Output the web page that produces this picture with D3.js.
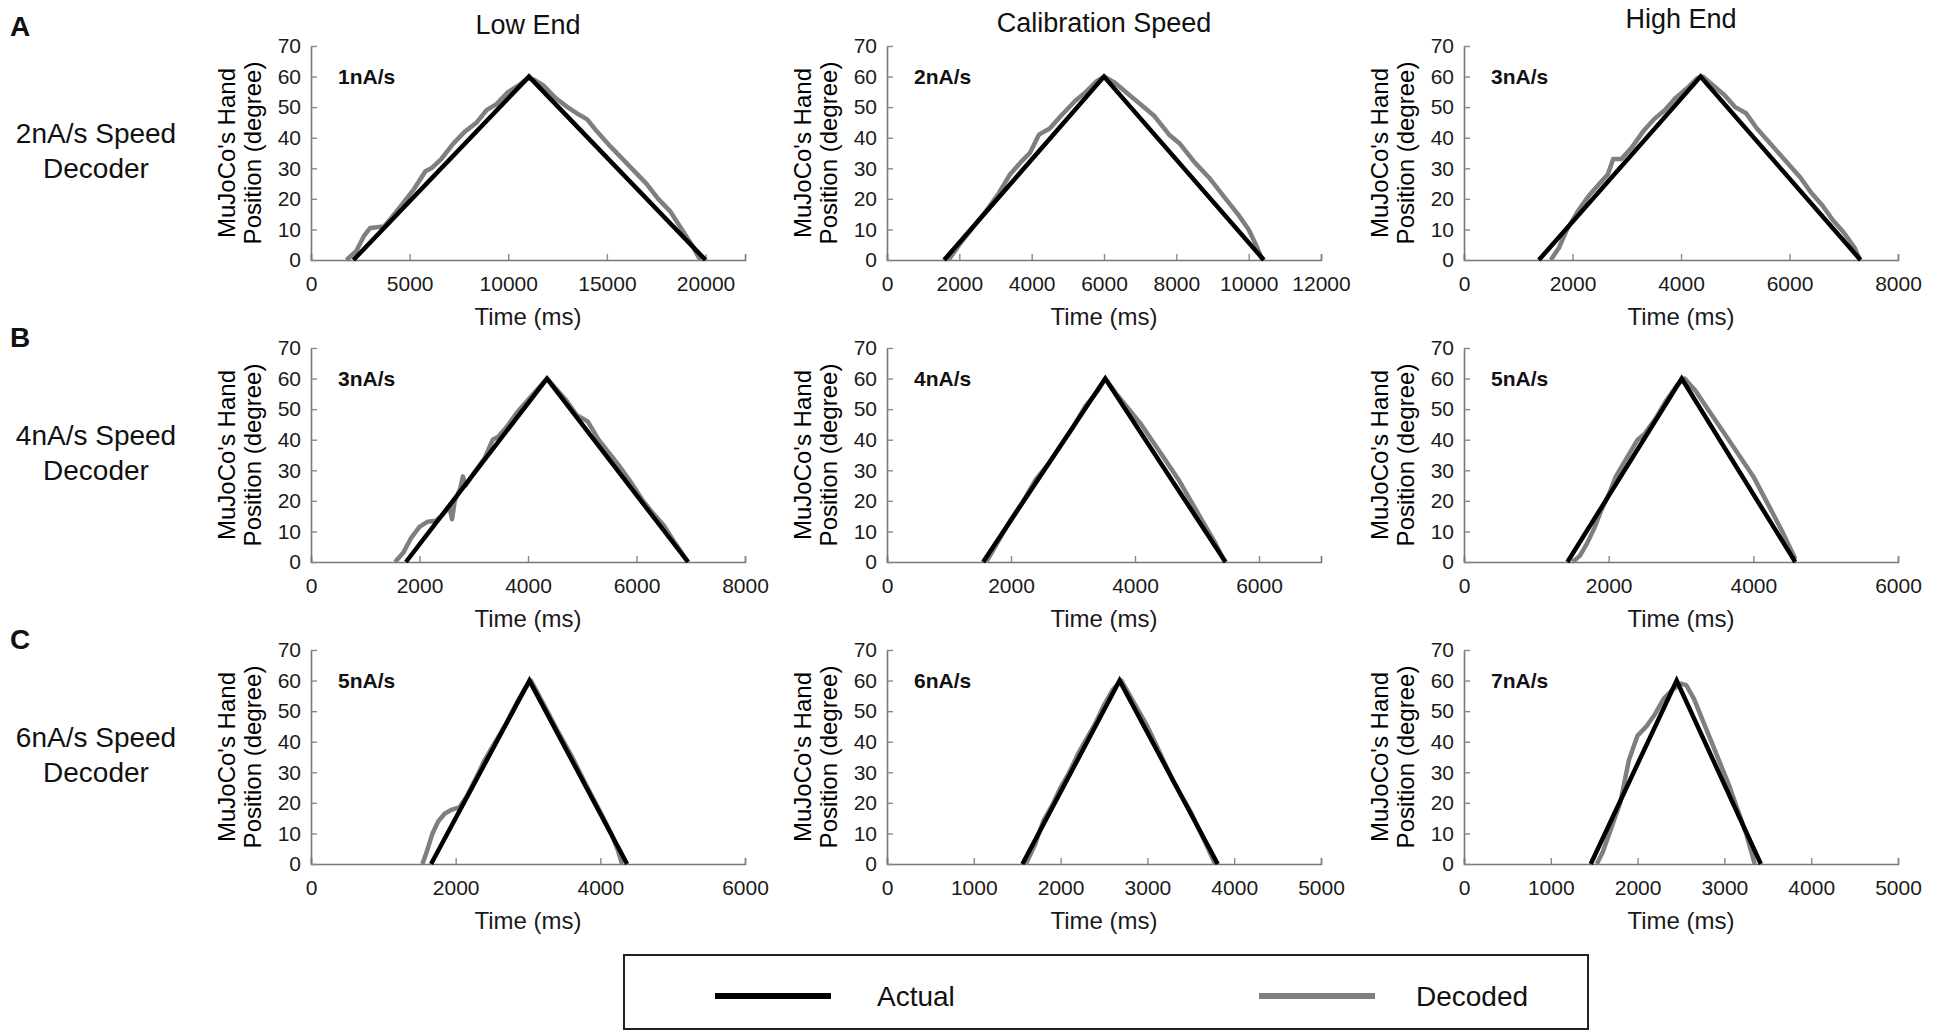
<!DOCTYPE html>
<html>
<head>
<meta charset="utf-8">
<script src="https://cdn.jsdelivr.net/npm/d3@7"></script>
<style>
  body { margin: 0; background: #fff; }
  svg { font-family: "Liberation Sans", Arial, sans-serif; }
</style>
</head>
<body>
<svg id="chart"></svg>
<script>
// Labels
const colTitles = ["Low End", "Calibration Speed", "High End"];
const rowLetters = ["A", "B", "C"];
const rowDecoders = ["2nA/s Speed", "4nA/s Speed", "6nA/s Speed"];
const speedLabels = [
    ["1nA/s", "2nA/s", "3nA/s"],
    ["3nA/s", "4nA/s", "5nA/s"],
    ["5nA/s", "6nA/s", "7nA/s"]
];

// Time axis range (ms) and tick step per panel
const timeMax = [[22000, 12000, 8000], [8000, 7000, 6000], [6000, 5000, 5000]];
const timeStep = [[5000, 2000, 2000], [2000, 2000, 2000], [2000, 1000, 1000]];
const degTicks = [0, 10, 20, 30, 40, 50, 60, 70];

// Actual hand position [time, degree], row by row
const actual = [
    [[2150, 0], [11050, 60], [20000, 0]],
    [[1580, 0], [6000, 60], [10420, 0]],
    [[1380, 0], [4360, 60], [7310, 0]],
    [[1750, 0], [4350, 60], [6950, 0]],
    [[1550, 0], [3520, 60], [5460, 0]],
    [[1430, 0], [3010, 60], [4580, 0]],
    [[1660, 0], [3020, 60], [4370, 0]],
    [[1560, 0], [2680, 60], [3810, 0]],
    [[1460, 0], [2450, 60], [3420, 0]]
];

// Decoded hand position [time, degree]
const decoded = [
    [[1800, 0], [2300, 3], [2700, 8], [3000, 10.5], [3700, 11], [4100, 14], [4600, 18], [5200, 23], [5800, 29],
     [6100, 30], [6600, 33], [7200, 38], [7800, 42], [8400, 45], [8900, 49], [9400, 51], [10000, 55], [10500, 57],
     [11000, 59.5], [11300, 59], [11800, 57], [12400, 53], [13000, 50], [13600, 47.5], [14000, 46], [14500, 42],
     [15200, 37], [15800, 33], [16400, 29], [17000, 25], [17600, 20], [18200, 16], [18800, 10], [19300, 5],
     [19600, 1.5], [19750, 0]],
    [[1700, 0], [2000, 5], [2400, 11], [2800, 17], [3100, 22], [3400, 28], [3700, 32], [3950, 35], [4200, 41],
     [4500, 43], [4800, 47], [5200, 52], [5500, 55], [5800, 58.5], [6000, 60], [6300, 58], [6700, 54], [7000, 51],
     [7400, 47], [7800, 41], [8100, 38], [8500, 32], [8900, 27], [9300, 21], [9700, 15], [10000, 10], [10200, 5],
     [10380, 0]],
    [[1600, 0], [1750, 4], [1900, 10], [2100, 16], [2300, 21], [2500, 25], [2650, 28], [2750, 33], [2900, 33],
     [3100, 37], [3300, 42], [3500, 46], [3700, 49], [3900, 53], [4100, 56], [4300, 59.5], [4400, 60], [4600, 57],
     [4800, 54], [5000, 50], [5200, 48], [5400, 43], [5600, 39], [5800, 35], [6000, 31], [6200, 27], [6400, 22],
     [6600, 18], [6800, 13], [7000, 9], [7200, 4], [7300, 0]],
    [[1550, 0], [1700, 3], [1850, 8], [2000, 11.5], [2150, 13.2], [2300, 13.5], [2400, 15], [2550, 18], [2600, 14],
     [2650, 20], [2750, 24], [2800, 28], [2850, 25], [3000, 29], [3200, 34], [3350, 40], [3450, 41], [3600, 44],
     [3800, 49], [4000, 53], [4200, 57], [4350, 60], [4500, 57], [4700, 53], [4900, 48], [5100, 46], [5300, 40],
     [5500, 35.5], [5700, 31], [5900, 26], [6100, 20.5], [6300, 16], [6500, 12], [6700, 6.5], [6950, 0]],
    [[1600, 0], [1800, 7], [2000, 14], [2200, 20], [2400, 27], [2600, 32], [2800, 38], [3000, 44], [3200, 51],
     [3400, 56], [3520, 60], [3700, 55], [3900, 50], [4100, 45], [4300, 39], [4500, 33], [4700, 27], [4900, 20],
     [5100, 13], [5300, 6], [5450, 0]],
    [[1500, 0], [1600, 2], [1700, 6], [1800, 11], [1900, 17], [2000, 22], [2100, 28], [2200, 32], [2300, 36],
     [2400, 40], [2500, 42], [2650, 47], [2800, 53], [2950, 58], [3050, 60], [3200, 56], [3400, 49], [3600, 42],
     [3800, 35], [4000, 28], [4200, 19], [4400, 10], [4580, 1]],
    [[1540, 0], [1600, 4], [1680, 10], [1760, 14], [1850, 16.5], [1950, 17.8], [2050, 18.5], [2150, 22], [2300, 29],
     [2400, 34], [2550, 40], [2700, 46], [2850, 53], [3000, 59], [3040, 60], [3200, 53], [3400, 44], [3600, 35.5],
     [3800, 26], [4000, 17], [4150, 10], [4250, 4], [4300, 0]],
    [[1600, 0], [1700, 6], [1800, 14], [1900, 19], [2000, 25], [2100, 30], [2200, 36], [2300, 41], [2400, 46],
     [2500, 52], [2600, 57], [2700, 60], [2800, 55], [2900, 50], [3000, 45], [3100, 39], [3200, 33], [3300, 27],
     [3400, 22], [3500, 17], [3600, 11], [3700, 5], [3780, 0]],
    [[1530, 0], [1600, 4], [1700, 12], [1800, 20], [1850, 27], [1900, 34], [1950, 38], [2000, 42], [2100, 45],
     [2200, 49], [2300, 54], [2400, 57], [2500, 59], [2560, 58.5], [2650, 54], [2750, 47], [2850, 40], [2950, 33],
     [3050, 26], [3150, 18], [3250, 10], [3320, 3], [3350, 0]]
];

const legendItems = ["Actual", "Decoded"];

// Layout
const width = 1950, height = 1033;
const colX = [311, 887, 1464];
const rowY = [46, 348, 650];
const pw = 434, ph = 214;
const actualColor = "#000", decodedColor = "#7f7f7f";

const svg = d3.select("#chart")
    .attr("width", width)
    .attr("height", height);

// Column titles
const titleBase = [34, 32, 28];
colTitles.forEach((t, c) => {
    svg.append("text")
        .attr("x", colX[c] + pw / 2)
        .attr("y", titleBase[c])
        .attr("text-anchor", "middle")
        .attr("font-size", 27)
        .attr("fill", "#111")
        .text(t);
});

// Row letters and decoder labels
const letterBase = [36, 347, 649];
rowLetters.forEach((l, r) => {
    svg.append("text")
        .attr("x", 10)
        .attr("y", letterBase[r])
        .attr("font-size", 28)
        .attr("font-weight", "bold")
        .attr("fill", "#111")
        .text(l);

    const lab = svg.append("text")
        .attr("text-anchor", "middle")
        .attr("font-size", 28)
        .attr("fill", "#111");
    lab.append("tspan").attr("x", 96).attr("y", rowY[r] + 97).text(rowDecoders[r]);
    lab.append("tspan").attr("x", 96).attr("y", rowY[r] + 132).text("Decoder");
});

// Panels
for (let r = 0; r < 3; r++) {
    for (let c = 0; c < 3; c++) {
        const i = r * 3 + c;
        const g = svg.append("g")
            .attr("transform", `translate(${colX[c]},${rowY[r]})`);

        const x = d3.scaleLinear().domain([0, timeMax[r][c]]).range([0, pw]);
        const y = d3.scaleLinear().domain([0, 70]).range([ph, 0]);

        const xTicks = d3.range(0, timeMax[r][c] + 1, timeStep[r][c]);

        // Axes, ticks pointing inward
        const xAxis = g.append("g")
            .attr("transform", `translate(0,${ph})`)
            .call(d3.axisBottom(x).tickValues(xTicks).tickFormat(d3.format("d"))
                .tickSizeInner(-6).tickSizeOuter(-6).tickPadding(16));
        const yAxis = g.append("g")
            .call(d3.axisLeft(y).tickValues(degTicks)
                .tickSizeInner(-6).tickSizeOuter(0).tickPadding(10));

        [xAxis, yAxis].forEach(a => {
            a.select(".domain").attr("stroke", "#777").attr("stroke-width", 1.6);
            a.selectAll(".tick line").attr("stroke", "#888").attr("stroke-width", 1.4);
            a.selectAll(".tick text")
                .attr("font-size", 21)
                .attr("font-family", "Liberation Sans, Arial, sans-serif")
                .attr("fill", "#1a1a1a");
        });

        // Axis titles
        g.append("text")
            .attr("x", pw / 2)
            .attr("y", ph + 65)
            .attr("text-anchor", "middle")
            .attr("font-size", 24)
            .attr("fill", "#1a1a1a")
            .text("Time (ms)");

        const yl = g.append("text")
            .attr("transform", `translate(-85,${ph / 2}) rotate(-90)`)
            .attr("text-anchor", "middle")
            .attr("font-size", 24)
            .attr("fill", "#000");
        yl.append("tspan").attr("x", 0).attr("y", 0)
            .attr("dominant-baseline", "central").text("MuJoCo's Hand");
        yl.append("tspan").attr("x", 0).attr("y", 26)
            .attr("dominant-baseline", "central").text("Position (degree)");

        // Lines
        const line = d3.line().x(d => x(d[0])).y(d => y(d[1]));

        g.append("path")
            .datum(decoded[i])
            .attr("fill", "none")
            .attr("stroke", decodedColor)
            .attr("stroke-width", 4.5)
            .attr("stroke-linejoin", "round")
            .attr("d", line);

        g.append("path")
            .datum(actual[i])
            .attr("fill", "none")
            .attr("stroke", actualColor)
            .attr("stroke-width", 4.5)
            .attr("stroke-linejoin", "miter")
            .attr("d", line);

        // Stimulation speed
        g.append("text")
            .attr("x", 27)
            .attr("y", y(60) + 7)
            .attr("font-size", 21)
            .attr("font-weight", "bold")
            .attr("fill", "#111")
            .text(speedLabels[r][c]);
    }
}

// Legend
const legend = svg.append("g");
legend.append("rect")
    .attr("x", 624).attr("y", 955)
    .attr("width", 964).attr("height", 74)
    .attr("fill", "#fff")
    .attr("stroke", "#222")
    .attr("stroke-width", 2);

const legendLineX = [715, 1259];
const legendTextX = [877, 1416];
const legendColors = [actualColor, decodedColor];
legendItems.forEach((name, k) => {
    legend.append("line")
        .attr("x1", legendLineX[k]).attr("x2", legendLineX[k] + 116)
        .attr("y1", 996).attr("y2", 996)
        .attr("stroke", legendColors[k])
        .attr("stroke-width", 6);
    legend.append("text")
        .attr("x", legendTextX[k])
        .attr("y", 1006)
        .attr("font-size", 28)
        .attr("fill", "#111")
        .text(name);
});
</script>
</body>
</html>
